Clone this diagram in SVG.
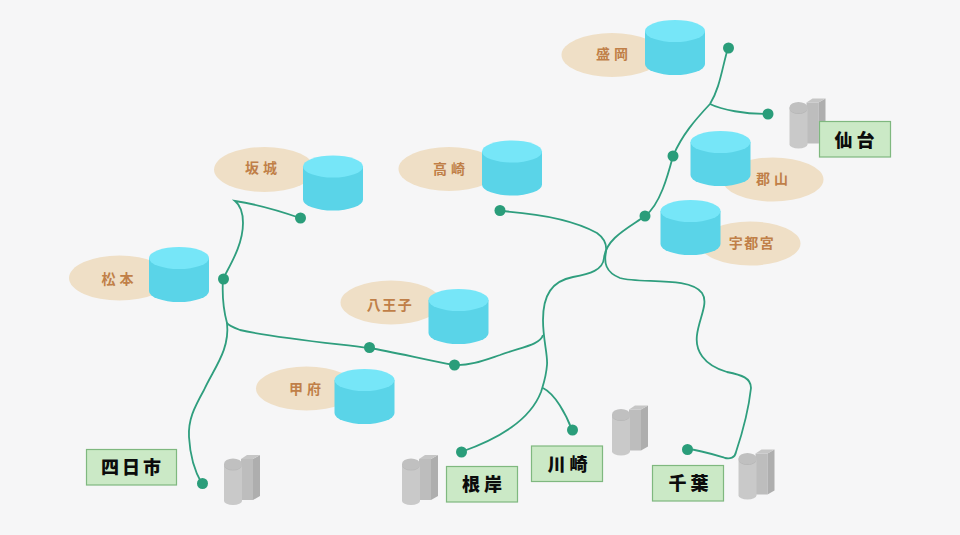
<svg xmlns="http://www.w3.org/2000/svg" width="960" height="535" viewBox="0 0 960 535">
<style>
.oval{fill:#efdfc6}
.ctop{fill:#76e6f8}
.cbody{fill:#5ad4e8}
.city{font-family:"Noto Sans CJK JP","Noto Sans",sans-serif;font-weight:700;font-size:14px;letter-spacing:4px;fill:#c07f48;text-anchor:middle;dominant-baseline:central}
.tri{letter-spacing:1.5px}
.tag{fill:#cbe9c6;stroke:#7fb87f;stroke-width:1.2}
.tagt{font-family:"Noto Sans CJK JP","Noto Sans",sans-serif;font-weight:900;font-size:18px;letter-spacing:4px;fill:#0c0c0c;text-anchor:middle;dominant-baseline:central}
.tri3{letter-spacing:3px}
.line{fill:none;stroke:#2f9e7e;stroke-width:1.8}
.dot{fill:#2a9d7a}
</style>
<defs>
<g id="db">
<path class="cbody" d="M0,11V44A30,11 0 0 0 60,44V11Z"/>
<ellipse class="ctop" cx="30" cy="11" rx="30" ry="11"/>
</g>
<g id="plant">
<path fill="#bdbdbd" d="M17,4H29V45H17Z"/>
<path fill="#aeaeae" d="M29,4L36,0V41L29,45Z"/>
<path fill="#c6c6c6" d="M17,4L23,0H36L29,4Z"/>
<path fill="#c9c9c9" d="M0,9V46A9,4 0 0 0 18,46V9Z"/>
<ellipse fill="#c0c0c0" cx="9" cy="9" rx="9" ry="5.500"/>
<path fill="#b8b8b8" d="M0,10A9,5.500 0 0 0 18,10V9A9,5.500 0 0 1 0,9Z"/>
</g>
</defs>
<rect width="960" height="535" fill="#f6f6f7"/>
<g id="connectors">
<path class="line" d="M728,48C722,68 720,88 710,104C695,120 682,135 673,156C668,175 660,205 645,216C630,227 606,238 604,258C603,270 590,274 573,277C552,281 543,295 543,320C543,340 548,355 547,365C546,378 543,385 541,392C530,420 500,438 461,452"/>
<path class="line" d="M710,104C722,110 745,114 768,114"/>
<path class="line" d="M543,388C555,394 566,414 572,430"/>
<path class="line" d="M543,335C540,345 522,347 500,355C485,360 470,366 454,365C425,360 395,352 369,348C320,342 270,337 240,330C232,327 228,325 227,323C224,312 222,295 223,279C230,265 243,245 243,223C243,213 240,205 235,201C255,204 280,211 300,218"/>
<path class="line" d="M227,323C230,350 214,368 204,390C194,408 188,420 189,437C190,455 195,472 202,484"/>
<path class="line" d="M500,211C530,213 570,218 597,233C604,238 607,245 606,252C604,262 605,272 620,278C640,284 690,276 702,293C709,303 699,318 697,335C695,350 703,365 727,372C742,375 751,378 751,388C748,415 740,440 736,452C735,458 730,459 725,458C712,454 700,450 687,449"/>
</g>
<g id="junctions">
<circle class="dot" cx="728.500" cy="48" r="5.500"/>
<circle class="dot" cx="768" cy="114" r="5.500"/>
<circle class="dot" cx="673" cy="156" r="5.500"/>
<circle class="dot" cx="645" cy="216" r="5.500"/>
<circle class="dot" cx="500" cy="210.500" r="5.500"/>
<circle class="dot" cx="300.500" cy="218" r="5.500"/>
<circle class="dot" cx="223.500" cy="279" r="5.500"/>
<circle class="dot" cx="369.500" cy="347.500" r="5.500"/>
<circle class="dot" cx="454.500" cy="365" r="5.500"/>
<circle class="dot" cx="202.500" cy="483.500" r="5.500"/>
<circle class="dot" cx="461.500" cy="452" r="5.500"/>
<circle class="dot" cx="572.500" cy="430" r="5.500"/>
<circle class="dot" cx="687.500" cy="449.500" r="5.500"/>
</g>
<g id="morioka"><ellipse class="oval" cx="612" cy="55" rx="50.500" ry="22"/><use href="#db" x="645" y="20"/><text class="city" x="614" y="53">盛岡</text></g>
<g id="koriyama"><ellipse class="oval" cx="773" cy="179.500" rx="50.500" ry="22"/><use href="#db" x="690.500" y="131"/><text class="city" x="774" y="178">郡山</text></g>
<g id="utsunomiya"><ellipse class="oval" cx="750" cy="243.500" rx="50.500" ry="22"/><use href="#db" x="660.500" y="200"/><text class="city tri" x="752" y="242">宇都宮</text></g>
<g id="sakaki"><ellipse class="oval" cx="264.500" cy="169.500" rx="50.500" ry="22.500"/><use href="#db" x="303" y="155.500"/><text class="city" x="263" y="166.500">坂城</text></g>
<g id="takasaki"><ellipse class="oval" cx="449" cy="169" rx="50.500" ry="22"/><use href="#db" x="482" y="140.500"/><text class="city" x="451" y="167.500">高崎</text></g>
<g id="matsumoto"><ellipse class="oval" cx="119.500" cy="278" rx="50.500" ry="22.500"/><use href="#db" x="149" y="247"/><text class="city" x="119.500" y="277.500">松本</text></g>
<g id="hachioji"><ellipse class="oval" cx="391" cy="302.500" rx="50.500" ry="22"/><use href="#db" x="428.500" y="289"/><text class="city tri" x="390" y="303.500">八王子</text></g>
<g id="kofu"><ellipse class="oval" cx="306.500" cy="388.500" rx="50.500" ry="22"/><use href="#db" x="334.500" y="369"/><text class="city" x="307" y="387.500">甲府</text></g>
<g id="yokkaichi"><use href="#plant" x="224" y="455"/><rect class="tag" x="86.500" y="449.500" width="90" height="35.500"/><text class="tagt tri3" x="132.500" y="466">四日市</text></g>
<g id="negishi"><use href="#plant" x="402" y="455"/><rect class="tag" x="446.500" y="466.500" width="71" height="35.500"/><text class="tagt" x="484" y="483">根岸</text></g>
<g id="kawasaki"><use href="#plant" x="612" y="405.500"/><rect class="tag" x="531.500" y="446" width="71" height="35.500"/><text class="tagt" x="569.500" y="462.500">川崎</text></g>
<g id="chiba"><use href="#plant" x="738.500" y="449.500"/><rect class="tag" x="652.500" y="465.500" width="71" height="35.500"/><text class="tagt" x="690.500" y="482">千葉</text></g>
<g id="sendai"><use href="#plant" x="789.500" y="98.500"/><rect class="tag" x="819.500" y="121.500" width="71" height="35.500"/><text class="tagt" x="856.500" y="138.500">仙台</text></g>
</svg>
